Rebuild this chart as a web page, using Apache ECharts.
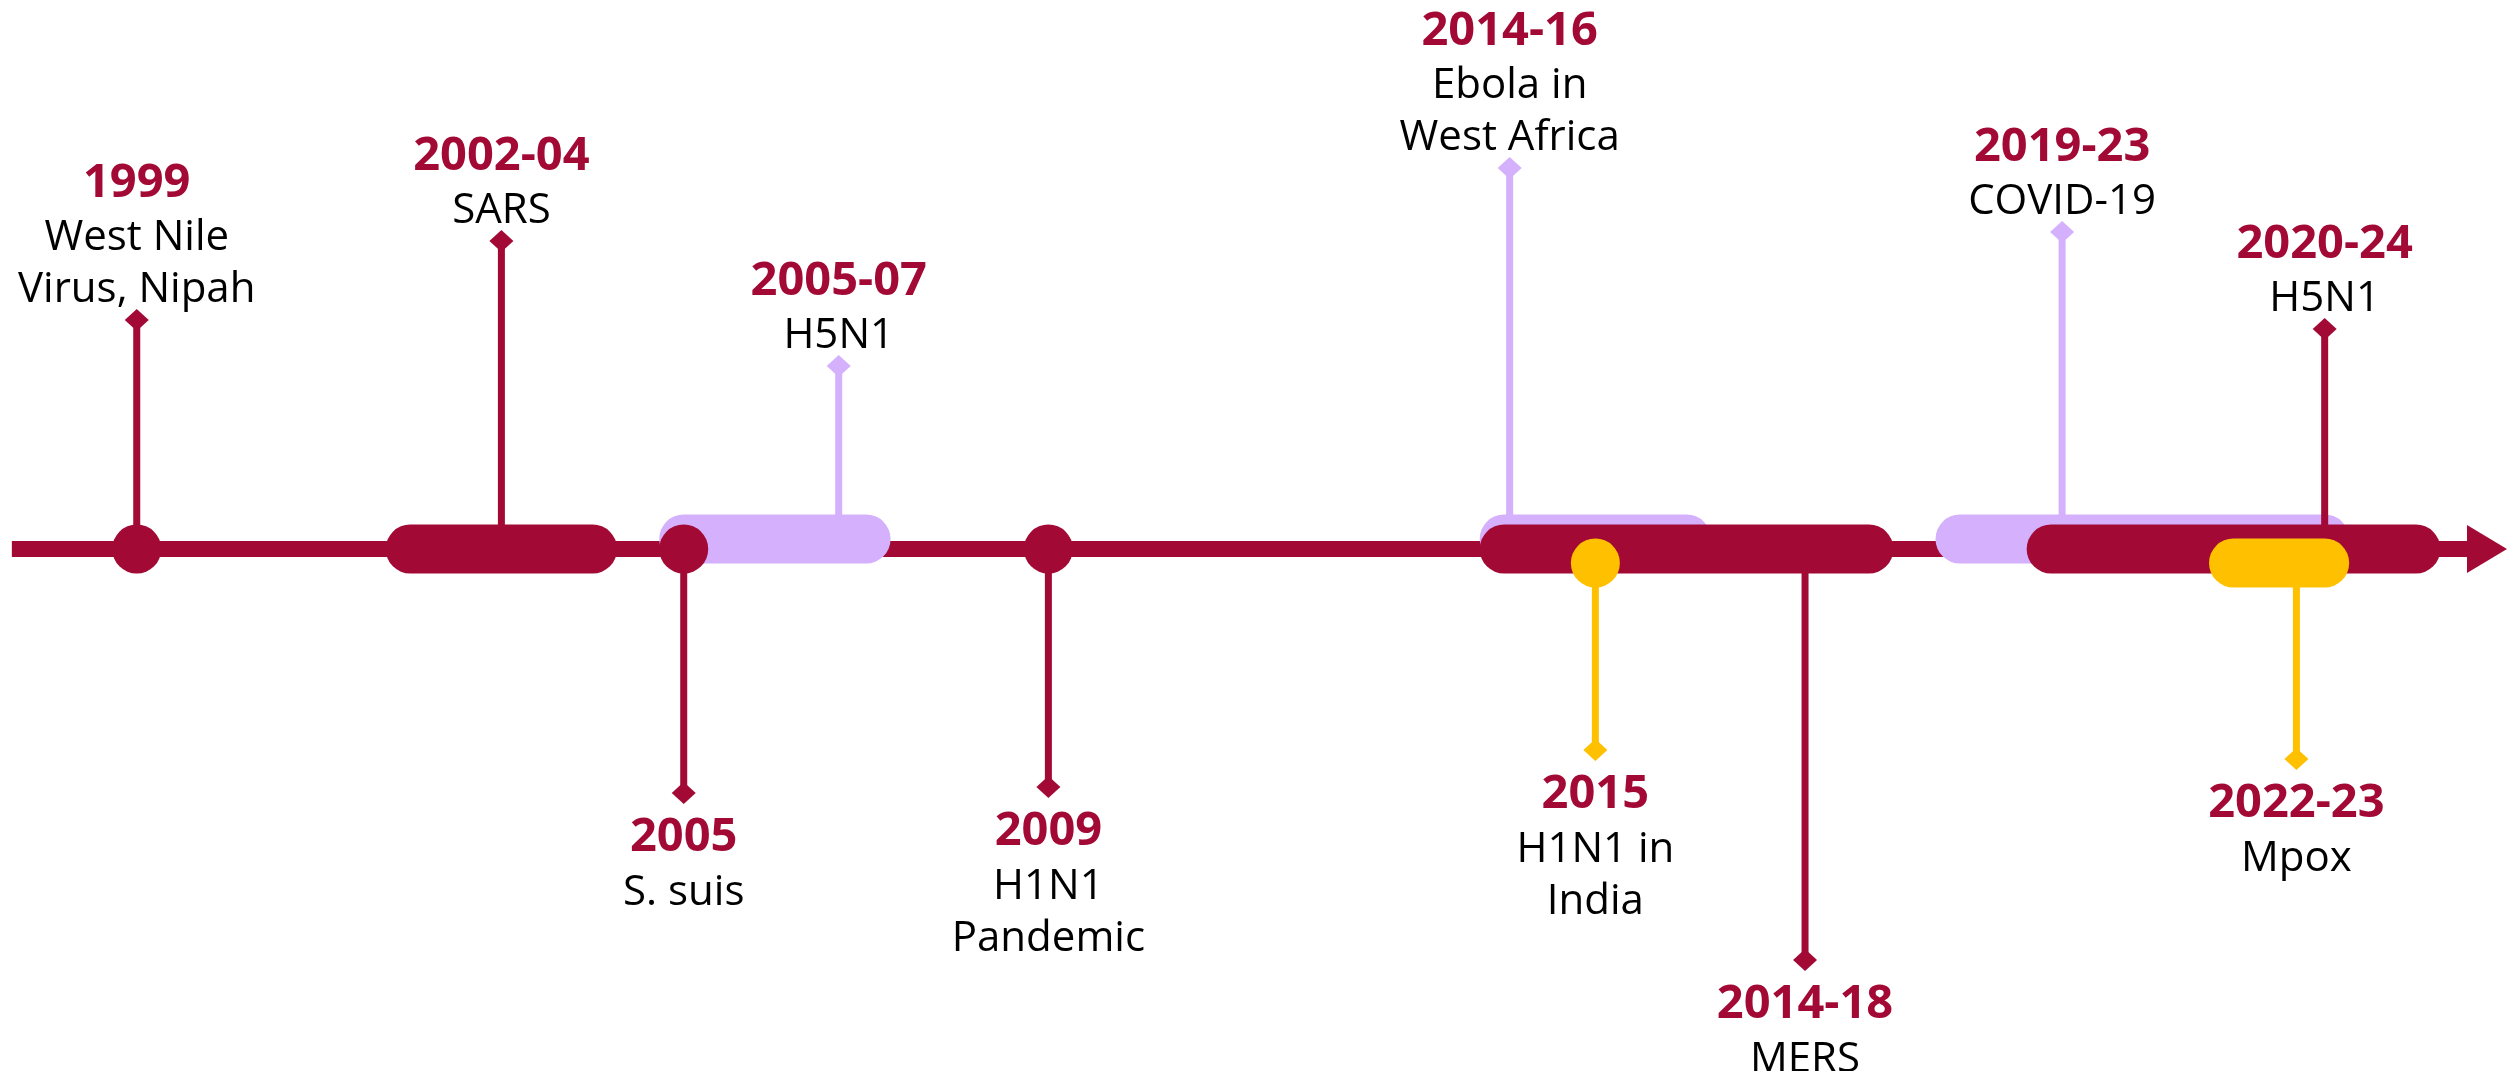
<!DOCTYPE html>
<html>
<head>
<meta charset="utf-8">
<script src="https://cdn.jsdelivr.net/npm/echarts@6/dist/echarts.min.js"></script>
<style>
html,body{margin:0;padding:0;background:#ffffff;}
#chart{width:2507px;height:1071px;}
</style>
</head>
<body>
<div id="chart"></div>
<script>
// ---------------- data ----------------
const periods   = ['1999', '2002-04', '2005', '2005-07', '2009', '2014-16', '2014-18', '2015', '2019-23', '2020-24', '2022-23'];
const diseases  = [['West Nile', 'Virus, Nipah'], ['SARS'], ['S. suis'], ['H5N1'], ['H1N1', 'Pandemic'],
                   ['Ebola in', 'West Africa'], ['MERS'], ['H1N1 in', 'India'], ['COVID-19'], ['H5N1'], ['Mpox']];
const startYear = [1999, 2002, 2005, 2005, 2009, 2014, 2014, 2015, 2019, 2020, 2022];
const endYear   = [1999, 2004, 2005, 2007, 2009, 2016, 2018, 2015, 2023, 2024, 2023];
const stemYear  = [1999, 2003, 2005, 2006.7, 2009, 2014.06, 2017.3, 2015, 2020.12, 2023, 2022.69];
const stemEnd   = [229, 308, -244, 183, -238, 381, -411, -201, 317, 220, -210];
const group     = ['A', 'A', 'A', 'B', 'A', 'B', 'A', 'C', 'B', 'A', 'C'];
const axisStart = 1997.63;
const axisEnd   = 2025;

// ---------------- style ----------------
const RED = '#A20A35', LAV = '#D4B0FD', YEL = '#FFC000';
const groupStyle = {
  A: { color: RED, dy: 0,   z: 3 },
  B: { color: LAV, dy: -10, z: 2 },
  C: { color: YEL, dy: 14,  z: 4 }
};
const FONT = '"Open Sans", "Noto Sans", sans-serif';
const BAR_H = 49;
const TXT_SHIFT = 5;

function eventRender(color, dy) {
  return function (params, api) {
    const idx = api.value(4);
    const s = api.coord([api.value(0), 0]);
    const e = api.coord([api.value(1), 0]);
    const st = api.coord([api.value(2), api.value(3)]);
    const yc = s[1] + dy;
    const r = BAR_H / 2;
    const up = api.value(3) > 0;
    const ch = [];
    ch.push({ type: 'line', shape: { x1: st[0], y1: yc, x2: st[0], y2: st[1] },
              style: { stroke: color, lineWidth: 7 } });
    ch.push({ type: 'polygon', shape: { points: [[st[0], st[1] - 11], [st[0] + 12, st[1]], [st[0], st[1] + 11], [st[0] - 12, st[1]]] },
              style: { fill: color } });
    if (api.value(1) > api.value(0)) {
      ch.push({ type: 'rect', shape: { x: s[0] - r, y: yc - r, width: e[0] - s[0] + BAR_H, height: BAR_H, r: r },
                style: { fill: color } });
    } else {
      ch.push({ type: 'circle', shape: { cx: s[0], cy: yc, r: r }, style: { fill: color } });
    }
    // labels
    const lines = diseases[idx];
    const yearFont = 'bold 47px ' + FONT;
    const descFont = '42px ' + FONT;
    if (up) {
      let y = st[1] - 35 + TXT_SHIFT;
      const descY = [];
      for (let k = lines.length - 1; k >= 0; k--) { descY[k] = y; y -= 52; }
      const yearY = descY[0] - 54;
      ch.push({ type: 'text', x: st[0], y: yearY, style: { text: periods[idx], font: yearFont, fill: RED, align: 'center', verticalAlign: 'middle' } });
      lines.forEach((t, k) => ch.push({ type: 'text', x: st[0], y: descY[k], style: { text: t, font: descFont, fill: '#000000', align: 'center', verticalAlign: 'middle' } }));
    } else {
      const yearY = st[1] + 40 + TXT_SHIFT;
      ch.push({ type: 'text', x: st[0], y: yearY, style: { text: periods[idx], font: yearFont, fill: RED, align: 'center', verticalAlign: 'middle' } });
      lines.forEach((t, k) => ch.push({ type: 'text', x: st[0], y: yearY + 55 + 52 * k, style: { text: t, font: descFont, fill: '#000000', align: 'center', verticalAlign: 'middle' } }));
    }
    return { type: 'group', children: ch };
  };
}

const series = [{
  type: 'custom', z: 1, clip: false, silent: true,
  data: [[axisStart, axisEnd]],
  renderItem: function (params, api) {
    const a = api.coord([api.value(0), 0]);
    const b = api.coord([api.value(1), 0]);
    const y = a[1];
    return { type: 'group', children: [
      { type: 'rect', shape: { x: a[0], y: y - 8, width: b[0] - 40 - a[0] + 2, height: 16 }, style: { fill: RED } },
      { type: 'polygon', shape: { points: [[b[0] - 40, y - 24], [b[0], y], [b[0] - 40, y + 24]] }, style: { fill: RED } }
    ] };
  }
}];

['B', 'A', 'C'].forEach(g => {
  const data = [];
  for (let i = 0; i < periods.length; i++) {
    if (group[i] === g) data.push([startYear[i], endYear[i], stemYear[i], stemEnd[i], i]);
  }
  series.push({
    type: 'custom', z: groupStyle[g].z, clip: false, silent: true,
    data: data,
    renderItem: eventRender(groupStyle[g].color, groupStyle[g].dy)
  });
});

const chart = echarts.init(document.getElementById('chart'), null, { renderer: 'canvas' });
chart.setOption({
  animation: false,
  backgroundColor: '#ffffff',
  grid: { left: 0, right: 0, top: 0, bottom: 0 },
  xAxis: { type: 'value', min: 1997.5, max: 2025, show: false },
  yAxis: { type: 'value', min: -522, max: 549, show: false },
  series: series
});
</script>
</body>
</html>
